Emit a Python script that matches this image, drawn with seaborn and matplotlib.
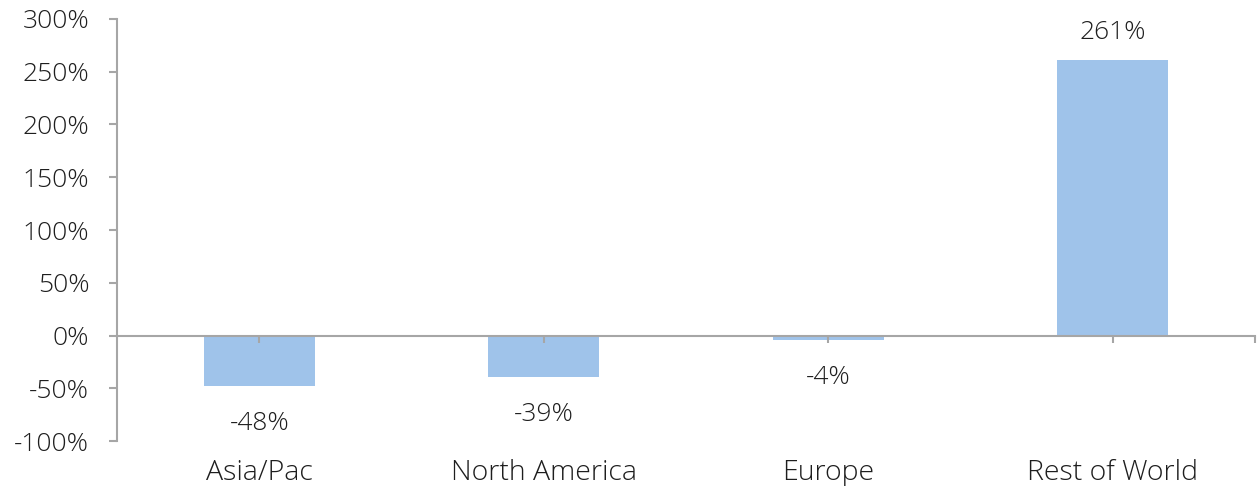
import matplotlib
matplotlib.use("Agg")
import matplotlib.pyplot as plt
import matplotlib.ticker as mticker
import pandas as pd
import seaborn as sb

regions = ["Asia/Pac", "North America", "Europe", "Rest of World"]
growth = [-48, -39, -4, 261]
yticks = [-100, -50, 0, 50, 100, 150, 200, 250, 300]

BAR_COLOR = "#9fc3ea"
AXIS_COLOR = "#a6a6a6"
TEXT_COLOR = "#1e1e1e"

sb.set_style("white")
plt.rcParams["font.family"] = ["Open Sans", "DejaVu Sans"]
plt.rcParams["font.weight"] = "light"

df = pd.DataFrame({"region": regions, "growth": growth})

fig = plt.figure(figsize=(12.6, 4.86), dpi=100)
ax = fig.add_axes([0.0929, 1 - 441 / 486, 0.9031, 422 / 486])

sb.barplot(data=df, x="region", y="growth", color=BAR_COLOR,
           width=0.39, saturation=1, linewidth=0, ax=ax)

ax.set_xlim(-0.5, len(regions) - 0.5)
ax.set_ylim(min(yticks), max(yticks))
ax.set_yticks(yticks)
ax.yaxis.set_major_formatter(mticker.FuncFormatter(lambda v, _: f"{v:.0f}%"))
ax.set_axisbelow(False)

# spines: left axis + zero line
for side in ["top", "right"]:
    ax.spines[side].set_visible(False)
ax.spines["left"].set_color(AXIS_COLOR)
ax.spines["left"].set_linewidth(1.5)
ax.spines["bottom"].set_position(("data", 0))
ax.spines["bottom"].set_color(AXIS_COLOR)
ax.spines["bottom"].set_linewidth(1.5)

ax.tick_params(axis="y", left=True, direction="out", length=6, width=1.5,
               color=AXIS_COLOR, labelsize=19, labelcolor=TEXT_COLOR, pad=14)
ax.tick_params(axis="x", bottom=True, direction="out", length=5, width=1.5,
               color=AXIS_COLOR, labelsize=20.5, labelcolor=TEXT_COLOR, pad=84)
ax.xaxis.set_minor_locator(mticker.FixedLocator([len(regions) - 0.5]))
ax.tick_params(axis="x", which="minor", bottom=True, direction="out", length=5,
               width=1.5, color=AXIS_COLOR)

ax.set_xlabel("")
ax.set_ylabel("")

# data labels
for i, v in enumerate(growth):
    if v >= 0:
        ax.annotate(f"{v}%", (i, v), xytext=(0, 11), textcoords="offset points",
                    ha="center", va="bottom", fontsize=19, color=TEXT_COLOR)
    else:
        ax.annotate(f"{v}%", (i, v), xytext=(0, -18), textcoords="offset points",
                    ha="center", va="top", fontsize=19, color=TEXT_COLOR)

plt.savefig("out.png", dpi=100)
